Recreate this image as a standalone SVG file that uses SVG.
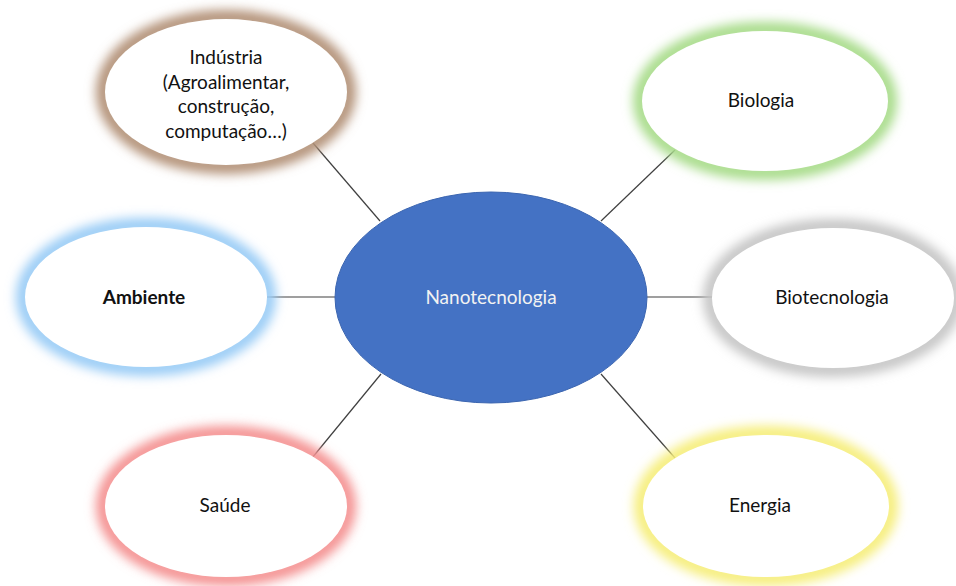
<svg xmlns="http://www.w3.org/2000/svg" width="956" height="586" viewBox="0 0 956 586">
  <defs>
    <filter id="glow" x="-20%" y="-30%" width="140%" height="160%">
      <feGaussianBlur stdDeviation="5.5"/>
    </filter>
    <style>
      .halo { fill: none; stroke-width: 16; filter: url(#glow); }
      .body { fill: #ffffff; }
      .label { font-family: Lato, "Open Sans", "Liberation Sans", sans-serif; font-size: 19px; fill: #111111; text-anchor: middle; }
      .link { stroke: #404040; stroke-width: 1.2; fill: none; }
    </style>
  </defs>
  <rect width="956" height="586" fill="#ffffff"/>

  <!-- connectors between the hub and each topic -->
  <g id="connectors">
    <line class="link" x1="313" y1="143" x2="380" y2="221"/>
    <line class="link" x1="675" y1="150" x2="601" y2="221"/>
    <line class="link" x1="267" y1="297" x2="335" y2="297"/>
    <line class="link" x1="647" y1="297" x2="712" y2="297"/>
    <line class="link" x1="312" y1="458" x2="381" y2="374"/>
    <line class="link" x1="675" y1="458" x2="601" y2="374"/>
  </g>

  <g id="hub">
    <ellipse cx="491" cy="297.5" rx="156" ry="105.5" fill="#4472c4" stroke="#3b65b0" stroke-width="1"/>
    <text class="label" x="491" y="304" style="fill:#f2f2f2">Nanotecnologia</text>
  </g>

  <g id="industria">
    <ellipse class="halo" cx="226" cy="92" rx="122" ry="74" stroke="#b39278"/>
    <ellipse class="body" cx="226" cy="92" rx="121" ry="73"/>
    <text class="label" x="226" y="64">Indústria</text>
    <text class="label" x="226" y="89">(Agroalimentar,</text>
    <text class="label" x="226" y="113">construção,</text>
    <text class="label" x="226" y="138">computação…)</text>
  </g>

  <g id="biologia">
    <ellipse class="halo" cx="765" cy="101" rx="124" ry="71" stroke="#a8dc8a"/>
    <ellipse class="body" cx="765" cy="101" rx="123" ry="70"/>
    <text class="label" x="761" y="107">Biologia</text>
  </g>

  <g id="ambiente">
    <ellipse class="halo" cx="146" cy="297" rx="122" ry="71" stroke="#9accf6"/>
    <ellipse class="body" cx="146" cy="297" rx="121" ry="70"/>
    <text class="label" x="144" y="304" style="font-weight:bold">Ambiente</text>
  </g>

  <g id="biotecnologia">
    <ellipse class="halo" cx="833" cy="298" rx="122" ry="71" stroke="#c6c6c6"/>
    <ellipse class="body" cx="833" cy="298" rx="121" ry="70"/>
    <text class="label" x="832" y="304">Biotecnologia</text>
  </g>

  <g id="saude">
    <ellipse class="halo" cx="226" cy="506" rx="122" ry="72" stroke="#f49292"/>
    <ellipse class="body" cx="226" cy="506" rx="121" ry="71"/>
    <text class="label" x="225" y="512">Saúde</text>
  </g>

  <g id="energia">
    <ellipse class="halo" cx="766" cy="506" rx="124" ry="72" stroke="#f6ee7c"/>
    <ellipse class="body" cx="766" cy="506" rx="123" ry="71"/>
    <text class="label" x="760" y="512">Energia</text>
  </g>
</svg>
